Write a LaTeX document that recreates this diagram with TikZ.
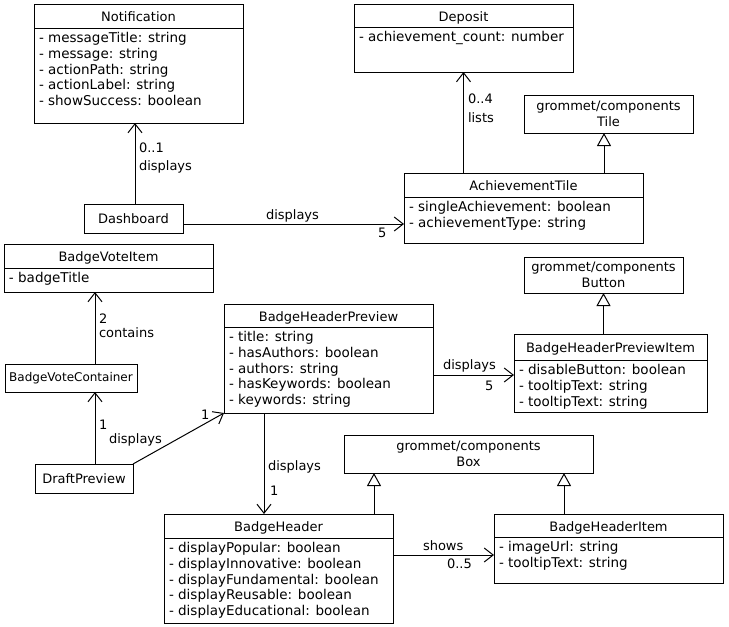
\documentclass[tikz,border=0pt]{standalone}
\usepackage{fontspec}
\setmainfont{DejaVu Sans}
\usetikzlibrary{arrows.meta}
\tikzset{
  x=1pt, y=-1pt,
  classbox/.style={draw, line width=1pt, inner sep=0pt, outer sep=0pt},
  txt/.style={inner sep=0pt, outer sep=0pt},
  attr/.style={inner sep=0pt, outer sep=0pt, font=\fontsize{13.5}{16}\selectfont},
  assoc/.style={line width=1pt, -{Straight Barb[length=9pt,width=14pt,line width=1pt]}},
  inherit/.style={line width=1pt, -{Triangle[open,length=13pt,width=14pt,line width=1pt]}},
  lbl/.style={anchor=west, inner sep=0pt, outer sep=0pt},
}
% name, x1, y1, x2, y2, header y, title, attributes
\newcommand\umlclass[8]{%
  \node[classbox, anchor=north west, minimum width={(#4-#2)*1pt}, minimum height={(#5-#3)*1pt}] (#1) at (#2,#3) {};
  \node[txt, anchor=base] (#1-t) at ({(#2+#4)/2},{(#3+#6)/2+5.5}) {#7};
  \draw[line width=1pt] (#2,#6) -- (#4,#6);
  \foreach \a [count=\i] in {#8} {
    \node[attr, anchor=base west] (#1-a\i) at (#2+5,{#6+14.5+15.8*(\i-1)}) {\a};
  }%
}
% name, x1, y1, x2, y2, text
\newcommand\plainbox[6]{%
  \node[classbox, align=center, minimum width={(#4-#2)*1pt}, minimum height={(#5-#3)*1pt}] (#1) at ({(#2+#4)/2},{(#3+#5)/2}) {#6};%
}
\begin{document}
\begin{tikzpicture}[font=\fontsize{13}{16}\selectfont]
\useasboundingbox (0,0) rectangle (729,627);

\umlclass{notif}{34}{4}{243}{123}{28}{Notification}{- messageTitle: string, - message: string, - actionPath: string, - actionLabel: string, - showSuccess: boolean}
\umlclass{dep}{354}{4}{573}{72}{27}{Deposit}{- achievement\_count: number}
\umlclass{ach}{404}{173}{643}{243}{197}{AchievementTile}{- singleAchievement: boolean, - achievementType: string}
\umlclass{bvi}{4}{244}{213}{292}{268}{BadgeVoteItem}{- badgeTitle}
\umlclass{bhp}{224}{304}{433}{413}{327}{BadgeHeaderPreview}{- title: string, - hasAuthors: boolean, - authors: string, - hasKeywords: boolean, - keywords: string}
\umlclass{bhpi}{514}{334}{707}{412}{360}{BadgeHeaderPreviewItem}{- disableButton: boolean, - tooltipText: string, - tooltipText: string}
\umlclass{bh}{164}{514}{393}{623}{538}{BadgeHeader}{- displayPopular: boolean, - displayInnovative: boolean, - displayFundamental: boolean, - displayReusable: boolean, - displayEducational: boolean}
\umlclass{bhi}{494}{514}{723}{583}{537}{BadgeHeaderItem}{- imageUrl: string, - tooltipText: string}

\plainbox{dash}{84}{204}{183}{233}{Dashboard}
\plainbox{bvc}{5}{364}{137}{392}{\fontsize{12}{16}\selectfont BadgeVoteContainer}
\plainbox{draft}{35}{464}{133}{493}{DraftPreview}
\plainbox{tile}{524}{95}{693}{133}{grommet/components\\Tile}
\plainbox{button}{524}{257}{683}{293}{grommet/components\\Button}
\plainbox{gbox}{344}{435}{593}{473}{grommet/components\\Box}

\coordinate (xn) at (135,0);
\coordinate (xv1) at (95,0);
\coordinate (xv2) at (264,0);
\coordinate (xv3) at (604,0);
\coordinate (xv4) at (374,0);
\coordinate (xv5) at (564,0);
\coordinate (yh1) at (0,224);
\coordinate (yh2) at (0,375);
\coordinate (yh3) at (0,555);

\draw[assoc] (dash.north -| xn) -- (notif.south -| xn);
\draw[assoc] (ach.north -| dep.south) -- (dep.south);
\draw[inherit] (ach.north -| xv3) -- (tile.south -| xv3);
\draw[assoc] (dash.east |- yh1) -- (ach.west |- yh1);
\draw[assoc] (bvc.north -| xv1) -- (bvi.south -| xv1);
\draw[assoc] (draft.north -| xv1) -- (bvc.south -| xv1);
\draw[assoc] (draft.north east) -- (bhp.south west);
\draw[assoc] (bhp.south -| xv2) -- (bh.north -| xv2);
\draw[assoc] (bhp.east |- yh2) -- (bhpi.west |- yh2);
\draw[inherit] (bhpi.north -| button.south) -- (button.south);
\draw[inherit] (bh.north -| xv4) -- (gbox.south -| xv4);
\draw[inherit] (bhi.north -| xv5) -- (gbox.south -| xv5);
\draw[assoc] (bh.east |- yh3) -- (bhi.west |- yh3);

\node[lbl] (m1) at (139,148) {0..1};
\node[lbl] (m2) at (139,167) {displays};
\node[lbl] (m3) at (468,99) {0..4};
\node[lbl] (m4) at (468,118) {lists};
\node[lbl] (m5) at (266,216) {displays};
\node[lbl] (m6) at (378,233) {5};
\node[lbl] (m7) at (99,319) {2};
\node[lbl] (m8) at (99,333) {contains};
\node[lbl] (m9) at (99,425) {1};
\node[lbl] (m10) at (109,440) {displays};
\node[lbl] (m11) at (201,415) {1};
\node[lbl] (m12) at (443,366) {displays};
\node[lbl] (m13) at (485,386) {5};
\node[lbl] (m14) at (268,467) {displays};
\node[lbl] (m15) at (270,491) {1};
\node[lbl] (m16) at (423,546) {shows};
\node[lbl] (m17) at (447,564) {0..5};
\end{tikzpicture}
\end{document}
